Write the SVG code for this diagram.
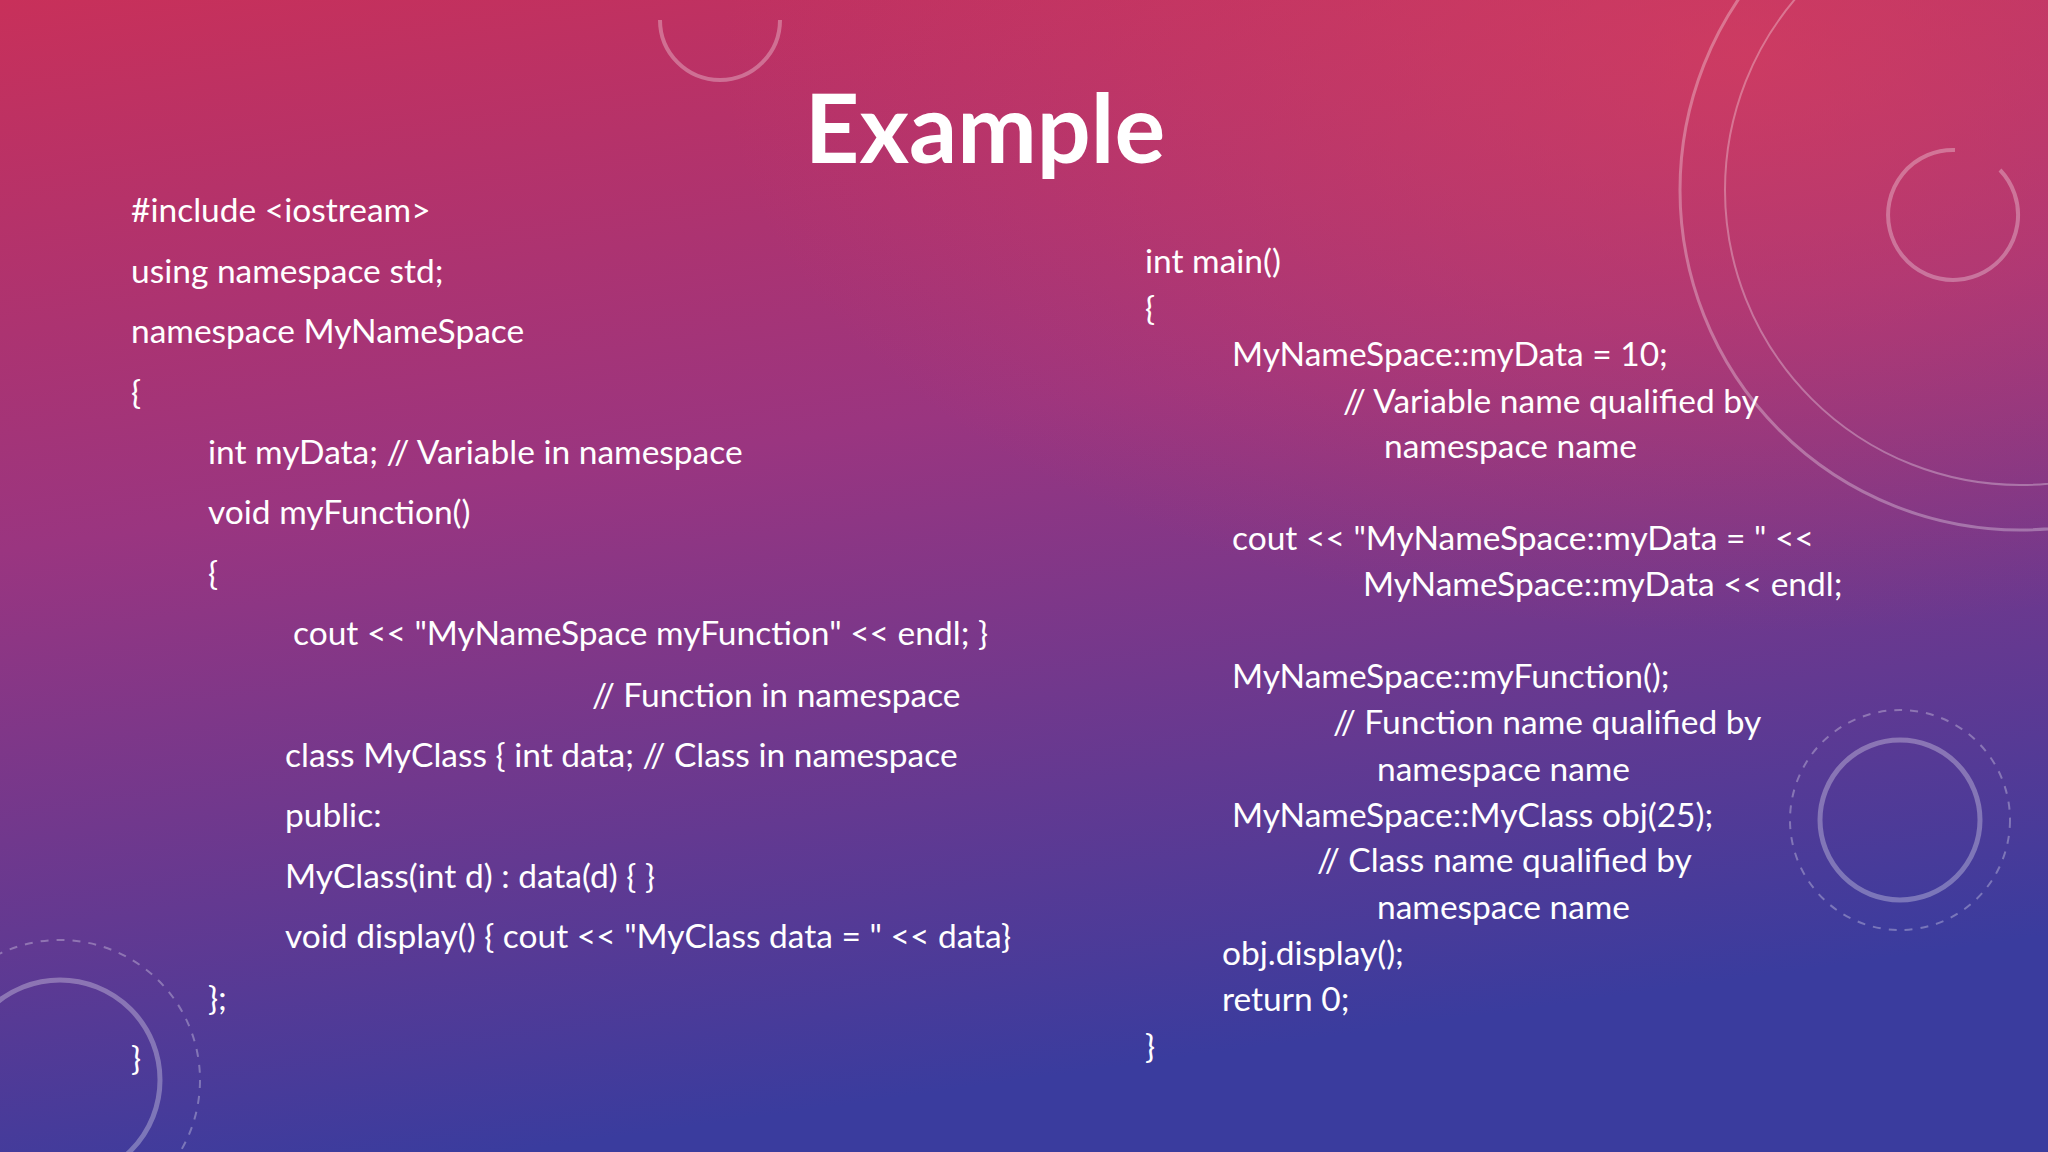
<svg xmlns="http://www.w3.org/2000/svg" width="2048" height="1152" viewBox="0 0 2048 1152">
<defs>
<linearGradient id="bg" x1="0" y1="0" x2="0.25" y2="1">
<stop offset="0" stop-color="#c8305a"/>
<stop offset="0.45" stop-color="#9a3580"/>
<stop offset="1" stop-color="#3a3c9e"/>
</linearGradient>
<radialGradient id="glow" cx="0.85" cy="0.05" r="0.5">
<stop offset="0" stop-color="#e0405a" stop-opacity="0.6"/>
<stop offset="1" stop-color="#e0405a" stop-opacity="0"/>
</radialGradient>
<style>
.c{font-family:Lato,"Open Sans","Liberation Sans",sans-serif;font-size:33.5px;fill:#ffffff}
.d{fill:none;stroke:#ffffff;stroke-opacity:0.3}
</style>
</defs>
<rect width="2048" height="1152" fill="url(#bg)"/>
<rect width="2048" height="1152" fill="url(#glow)"/>
<g id="decor">
<circle class="d" cx="2020" cy="190" r="340" stroke-width="3"/>
<circle class="d" cx="2020" cy="190" r="295" stroke-width="2"/>
<path class="d" d="M1955 150 a65 65 0 1 0 45 20" stroke-width="4"/>
<circle class="d" cx="1900" cy="820" r="80" stroke-width="5"/>
<circle class="d" cx="1900" cy="820" r="110" stroke-width="2" stroke-dasharray="8 8"/>
<circle class="d" cx="60" cy="1080" r="100" stroke-width="5"/>
<circle class="d" cx="60" cy="1080" r="140" stroke-width="2" stroke-dasharray="8 8"/>
<path class="d" d="M660 20 a60 60 0 0 0 120 0" stroke-width="4"/>
</g>
<g id="title"><text x="985" y="163" text-anchor="middle" font-family="Lato,'Open Sans','Liberation Sans',sans-serif" font-weight="bold" font-size="95" fill="#fff">Example</text></g>
<g id="left">
<text class="c" x="131" y="222">#include &lt;iostream&gt;</text>
<text class="c" x="131" y="283">using namespace std;</text>
<text class="c" x="131" y="343">namespace MyNameSpace</text>
<text class="c" x="131" y="404">{</text>
<text class="c" x="208" y="464">int myData; // Variable in namespace</text>
<text class="c" x="208" y="524">void myFunction()</text>
<text class="c" x="208" y="585">{</text>
<text class="c" x="293" y="645">cout &lt;&lt; "MyNameSpace myFunction" &lt;&lt; endl; }</text>
<text class="c" x="592" y="707">// Function in namespace</text>
<text class="c" x="285" y="767">class MyClass { int data; // Class in namespace</text>
<text class="c" x="285" y="827">public:</text>
<text class="c" x="285" y="888">MyClass(int d) : data(d) { }</text>
<text class="c" x="285" y="948">void display() { cout &lt;&lt; "MyClass data = " &lt;&lt; data}</text>
<text class="c" x="208" y="1010">};</text>
<text class="c" x="131" y="1070">}</text>
</g>
<g id="right">
<text class="c" x="1145" y="273">int main()</text>
<text class="c" x="1145" y="320">{</text>
<text class="c" x="1232" y="366">MyNameSpace::myData = 10;</text>
<text class="c" x="1343" y="413">// Variable name qualified by</text>
<text class="c" x="1384" y="458">namespace name</text>
<text class="c" x="1232" y="550">cout &lt;&lt; "MyNameSpace::myData = " &lt;&lt;</text>
<text class="c" x="1363" y="596">MyNameSpace::myData &lt;&lt; endl;</text>
<text class="c" x="1232" y="688">MyNameSpace::myFunction();</text>
<text class="c" x="1333" y="734">// Function name qualified by</text>
<text class="c" x="1377" y="781">namespace name</text>
<text class="c" x="1232" y="827">MyNameSpace::MyClass obj(25);</text>
<text class="c" x="1317" y="872">// Class name qualified by</text>
<text class="c" x="1377" y="919">namespace name</text>
<text class="c" x="1222" y="965">obj.display();</text>
<text class="c" x="1222" y="1011">return 0;</text>
<text class="c" x="1145" y="1058">}</text>
</g>
</svg>
